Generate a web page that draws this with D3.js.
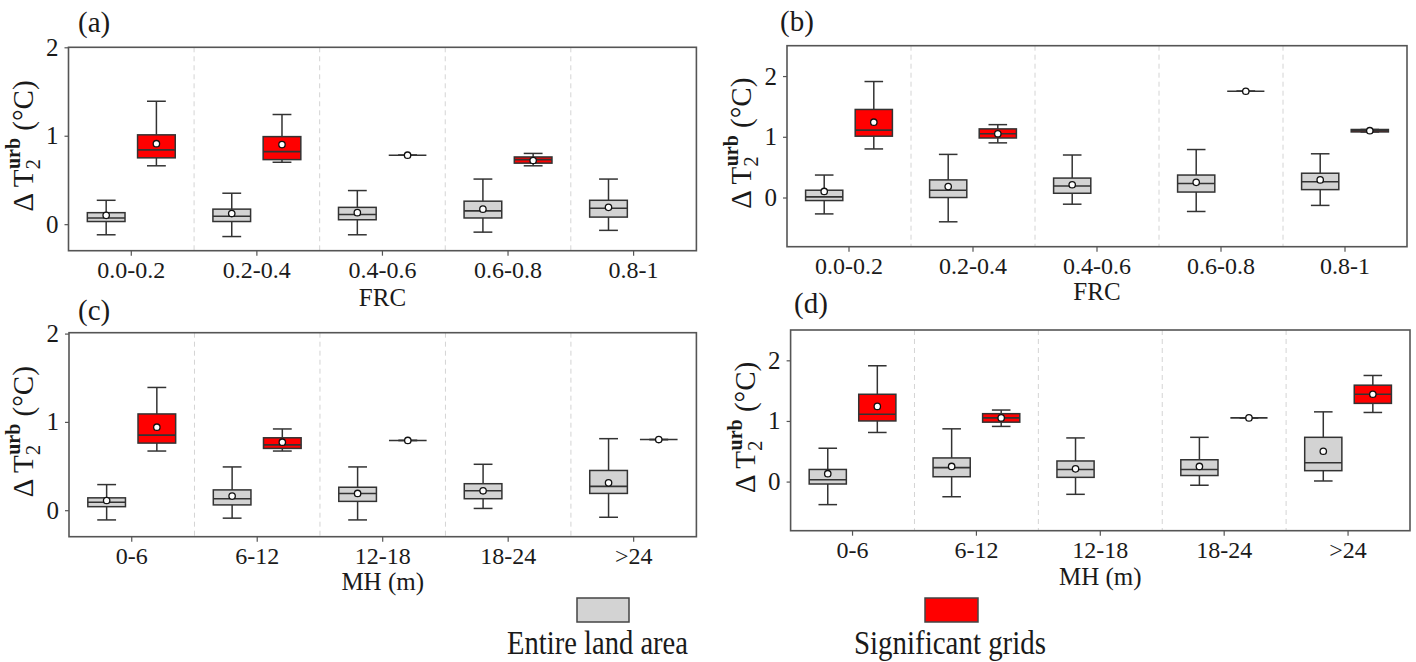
<!DOCTYPE html>
<html><head><meta charset="utf-8">
<script src="https://cdn.jsdelivr.net/npm/d3@7"></script>
<style>
body{margin:0;background:#fff}
svg{display:block}
text{font-family:"Liberation Serif","Times New Roman",serif;fill:#1a1a1a}
</style>
</head><body><svg id="c" width="1416" height="662"></svg>
<script>
// ---------------- data ----------------
const frcCategories = ["0.0-0.2", "0.2-0.4", "0.4-0.6", "0.6-0.8", "0.8-1"];
const mhCategories  = ["0-6", "6-12", "12-18", "18-24", ">24"];
const yTickValues = [0, 1, 2];
const seriesNames = ["Entire land area", "Significant grids"];
// each box: [lowWhisker, q1, median, q3, highWhisker, mean]  (null = no data)
const aEntire = [
  [-0.12, 0.03, 0.07, 0.13, 0.27, 0.10],
  [-0.14, 0.03, 0.09, 0.17, 0.35, 0.12],
  [-0.12, 0.05, 0.11, 0.19, 0.38, 0.13],
  [-0.09, 0.07, 0.15, 0.26, 0.51, 0.17],
  [-0.07, 0.08, 0.18, 0.27, 0.51, 0.19]
];
const aSignif = [
  [0.66, 0.75, 0.84, 1.01, 1.39, 0.91],
  [0.70, 0.73, 0.82, 0.99, 1.24, 0.90],
  [0.78, 0.78, 0.78, 0.78, 0.78, 0.78],
  [0.66, 0.69, 0.73, 0.76, 0.80, 0.72],
  null
];
const bEntire = [
  [-0.27, -0.05, 0.01, 0.12, 0.37, 0.10],
  [-0.40, 0.00, 0.12, 0.29, 0.71, 0.18],
  [-0.11, 0.07, 0.19, 0.32, 0.70, 0.21],
  [-0.23, 0.09, 0.23, 0.37, 0.79, 0.25],
  [-0.13, 0.13, 0.26, 0.40, 0.72, 0.29]
];
const bSignif = [
  [0.80, 1.01, 1.11, 1.45, 1.91, 1.24],
  [0.90, 0.98, 1.05, 1.13, 1.20, 1.05],
  null,
  [1.75, 1.75, 1.75, 1.75, 1.75, 1.75],
  [1.08, 1.08, 1.10, 1.12, 1.12, 1.10]
];
const cEntire = [
  [-0.11, 0.04, 0.09, 0.14, 0.29, 0.11],
  [-0.09, 0.06, 0.13, 0.23, 0.49, 0.16],
  [-0.11, 0.10, 0.19, 0.26, 0.49, 0.19],
  [0.02, 0.13, 0.22, 0.30, 0.52, 0.22],
  [-0.08, 0.19, 0.27, 0.45, 0.81, 0.31]
];
const cSignif = [
  [0.67, 0.76, 0.85, 1.09, 1.39, 0.94],
  [0.67, 0.70, 0.74, 0.82, 0.92, 0.77],
  [0.79, 0.79, 0.79, 0.79, 0.79, 0.79],
  null,
  [0.80, 0.80, 0.80, 0.80, 0.80, 0.80]
];
const dEntire = [
  [-0.38, -0.04, 0.03, 0.20, 0.55, 0.13],
  [-0.25, 0.08, 0.23, 0.39, 0.87, 0.25],
  [-0.21, 0.07, 0.20, 0.34, 0.72, 0.21],
  [-0.06, 0.10, 0.20, 0.36, 0.73, 0.25],
  [0.01, 0.18, 0.31, 0.73, 1.15, 0.50]
];
const dSignif = [
  [0.81, 1.00, 1.11, 1.44, 1.91, 1.24],
  [0.91, 0.98, 1.05, 1.12, 1.18, 1.05],
  null,
  [1.05, 1.05, 1.05, 1.05, 1.05, 1.05],
  [1.14, 1.29, 1.44, 1.59, 1.75, 1.44]
];

// ---------------- layout / style ----------------
const colors = ["#d3d3d3", "#ff0000"];
const edge = "#333333";
const panels = [
  {tag:"(a)", cats:frcCategories, series:[aEntire,aSignif], xTitle:"FRC",    yDomain:[-0.3,2.0],  frame:{l:68.5,r:696.4,t:47.3,b:250.7}, tagPos:[78,32],   titleY:306},
  {tag:"(b)", cats:frcCategories, series:[bEntire,bSignif], xTitle:"FRC",    yDomain:[-0.81,2.5], frame:{l:787,r:1407,t:45.7,b:246.7},   tagPos:[780,31],  titleY:300},
  {tag:"(c)", cats:mhCategories,  series:[cEntire,cSignif], xTitle:"MH (m)", yDomain:[-0.3,2.01], frame:{l:69,r:696.4,t:332.7,b:536.7},  tagPos:[78,320],  titleY:590},
  {tag:"(d)", cats:mhCategories,  series:[dEntire,dSignif], xTitle:"MH (m)", yDomain:[-0.81,2.5], frame:{l:790.6,r:1410,t:330,b:530.7},  tagPos:[794,313], titleY:585}
];

const svg = d3.select("#c");

panels.forEach(p => {
  const f = p.frame;
  const x = d3.scaleBand().domain(p.cats).range([f.l, f.r]).padding(0);
  const y = d3.scaleLinear().domain(p.yDomain).range([f.b, f.t]);
  const bw = x.bandwidth();
  const sub = d3.scaleBand().domain([0,1]).range([-0.4*bw, 0.4*bw]).padding(0);
  const boxW = 0.3*bw;
  const g = svg.append("g");

  // dashed separators between categories
  g.selectAll("line.sep").data(p.cats.slice(1)).join("line")
    .attr("x1", d => x(d)).attr("x2", d => x(d))
    .attr("y1", f.t).attr("y2", f.b)
    .attr("stroke", "#d4d4d4").attr("stroke-width", 1).attr("stroke-dasharray", "5,4");

  // axes
  const xa = g.append("g").attr("transform", `translate(0,${f.b})`)
    .call(d3.axisBottom(x).tickSize(5).tickPadding(5));
  xa.select(".domain").remove();
  xa.selectAll("text").attr("font-size", "24px").attr("font-family", "Liberation Serif").attr("fill", "#1a1a1a");
  xa.selectAll("line").attr("stroke", "#555").attr("stroke-width", 1.2);

  const ya = g.append("g").attr("transform", `translate(${f.l},0)`)
    .call(d3.axisLeft(y).tickValues(yTickValues).tickFormat(d3.format("d")).tickSize(4).tickPadding(6));
  ya.select(".domain").remove();
  ya.selectAll("text").attr("font-size", "25px").attr("font-family", "Liberation Serif").attr("fill", "#1a1a1a");
  ya.selectAll("line").attr("stroke", "#555").attr("stroke-width", 1.2);

  // frame
  g.append("rect").attr("x", f.l).attr("y", f.t).attr("width", f.r - f.l).attr("height", f.b - f.t)
    .attr("fill", "none").attr("stroke", "#555").attr("stroke-width", 1.6);

  // boxes
  p.series.forEach((ser, si) => {
    const items = ser.map((s, i) => ({s, cat: p.cats[i]})).filter(d => d.s);
    const bg = g.append("g").selectAll("g").data(items).join("g")
      .attr("transform", d => `translate(${x(d.cat) + bw/2 + sub(si) + sub.bandwidth()/2},0)`);
    // whiskers
    bg.append("line").attr("x1",0).attr("x2",0).attr("y1", d => y(d.s[3])).attr("y2", d => y(d.s[4]))
      .attr("stroke", edge).attr("stroke-width", 1.5);
    bg.append("line").attr("x1",0).attr("x2",0).attr("y1", d => y(d.s[0])).attr("y2", d => y(d.s[1]))
      .attr("stroke", edge).attr("stroke-width", 1.5);
    bg.append("line").attr("x1",-boxW/4).attr("x2",boxW/4).attr("y1", d => y(d.s[4])).attr("y2", d => y(d.s[4]))
      .attr("stroke", edge).attr("stroke-width", 1.5);
    bg.append("line").attr("x1",-boxW/4).attr("x2",boxW/4).attr("y1", d => y(d.s[0])).attr("y2", d => y(d.s[0]))
      .attr("stroke", edge).attr("stroke-width", 1.5);
    // box
    bg.append("rect").attr("x", -boxW/2).attr("width", boxW)
      .attr("y", d => y(d.s[3])).attr("height", d => Math.max(0, y(d.s[1]) - y(d.s[3])))
      .attr("fill", colors[si]).attr("stroke", edge).attr("stroke-width", 1.5);
    // median
    bg.append("line").attr("x1",-boxW/2).attr("x2",boxW/2).attr("y1", d => y(d.s[2])).attr("y2", d => y(d.s[2]))
      .attr("stroke", edge).attr("stroke-width", 1.6);
    // mean
    bg.append("circle").attr("cx",0).attr("cy", d => y(d.s[5])).attr("r", 3.2)
      .attr("fill", "#fff").attr("stroke", "#111").attr("stroke-width", 1.3);
  });

  // panel tag
  svg.append("text").attr("x", p.tagPos[0]).attr("y", p.tagPos[1]).attr("font-size", "29px").text(p.tag);
  // x title
  svg.append("text").attr("x", (f.l + f.r)/2).attr("y", p.titleY).attr("text-anchor", "middle")
    .attr("font-size", "25px").text(p.xTitle);
  // y title
  const cy = (f.t + f.b)/2 - 3;
  const yl = svg.append("text").attr("transform", `translate(${f.l - 36},${cy}) rotate(-90)`)
    .attr("text-anchor", "middle").attr("font-size", "29px");
  yl.append("tspan").text("\u0394 T");
  yl.append("tspan").attr("font-size", "21px").attr("dy", 7).text("2");
  yl.append("tspan").attr("font-size", "20px").attr("dx", -10).attr("dy", -20).attr("font-weight", "bold").text("urb");
  yl.append("tspan").attr("dy", 13).text(" (\u00b0C)");
});

// legend
const legend = [
  {name: seriesNames[0], color: colors[0], rect:[577,598,52,24], textX:507, textW:181},
  {name: seriesNames[1], color: colors[1], rect:[925,598,53,24], textX:854, textW:192}
];
legend.forEach(l => {
  svg.append("rect").attr("x", l.rect[0]).attr("y", l.rect[1]).attr("width", l.rect[2]).attr("height", l.rect[3])
    .attr("fill", l.color).attr("stroke", "#444").attr("stroke-width", 1.5);
  svg.append("text").attr("x", l.textX).attr("y", 654).attr("font-size", "33px")
    .attr("textLength", l.textW).attr("lengthAdjust", "spacingAndGlyphs").text(l.name);
});
</script>
</body></html>
